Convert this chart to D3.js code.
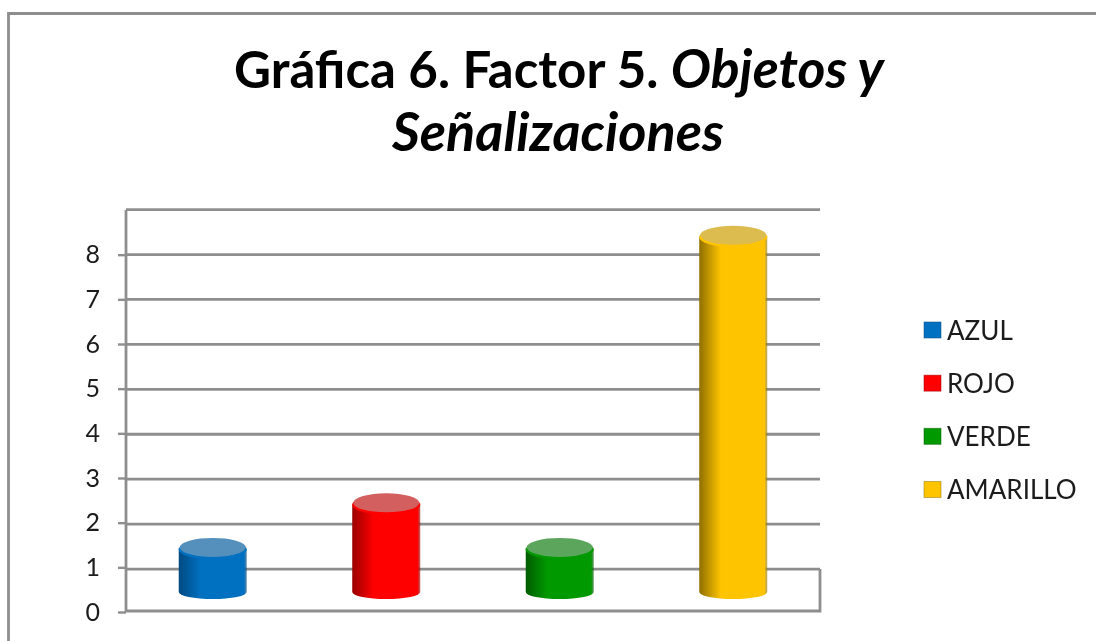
<!DOCTYPE html>
<html>
  <head>
    <meta charset="utf-8">
    <title>Gráfica 6</title>
    <script src="https://cdn.jsdelivr.net/npm/d3@7/dist/d3.min.js"></script>
    <style>
      html, body { margin: 0; padding: 0; background: #fff; overflow: hidden; }
      svg { display: block; }
    </style>
  </head>
  <body>
    <svg width="1096" height="641" id="mainsvg"></svg>
    <script>
        // data
        const categories = ['AZUL', 'ROJO', 'VERDE', 'AMARILLO'];
        const values = [1, 2, 1, 8];
        const yTicks = [0, 1, 2, 3, 4, 5, 6, 7, 8];
        const gridTicks = [1, 2, 3, 4, 5, 6, 7, 8, 9];
        const barColors = [
          {dark: '#034a80', mid: '#0070c0', top: '#5490bd'},
          {dark: '#9a0000', mid: '#ff0000', top: '#d45f5f'},
          {dark: '#005c00', mid: '#009900', top: '#5ba55b'},
          {dark: '#8f6f00', mid: '#ffc400', top: '#dcbb50'}
        ];

        const root = d3.select('#mainsvg');
        const font = 'Lato, "Open Sans", sans-serif';
        const axisColor = '#8e8e8e';

        const defs = root.append('defs');
        defs.append('filter').attr('id', 'soft')
          .attr('filterUnits', 'userSpaceOnUse')
          .attr('x', 0).attr('y', 0).attr('width', 1096).attr('height', 641)
          .append('feGaussianBlur').attr('stdDeviation', 0.5);

        // the reference is a slightly soft screenshot, so everything goes through a small blur
        const svg = root.append('g').attr('filter', 'url(#soft)');

        // outer frame of the chart
        svg.append('path')
          .attr('d', 'M8.5,641 V13.5 H1096')
          .attr('fill', 'none').attr('stroke', axisColor).attr('stroke-width', 2.8);

        // title
        const title = svg.append('text')
          .attr('x', 559).attr('y', 88)
          .attr('text-anchor', 'middle')
          .attr('font-family', font).attr('font-weight', 700)
          .attr('font-size', 51).attr('fill', '#000');
        title.append('tspan').text('Gráfica 6. Factor 5. ');
        title.append('tspan').attr('font-style', 'italic').attr('font-size', 53.5).text('Objetos y');
        svg.append('text')
          .attr('x', 558).attr('y', 151)
          .attr('text-anchor', 'middle')
          .attr('font-family', font).attr('font-weight', 700).attr('font-style', 'italic')
          .attr('font-size', 54).attr('fill', '#000')
          .text('Señalizaciones');

        // scales: tick labels, back wall and bar base sit at slightly different heights (3d chart)
        const plot = {left: 126, right: 820, top: 210, floor: 611};
        const x = d3.scaleBand().domain(categories)
          .range([plot.left, plot.right])
          .paddingInner(0.608).paddingOuter(0.304);
        const yLabel = d3.scaleLinear().domain([0, 9]).range([612, 210]);
        const yWall = d3.scaleLinear().domain([0, 9]).range([614, 209.6]);
        const yBar = d3.scaleLinear().domain([0, 9]).range([592, 190.6]);

        // gridlines on the back wall
        svg.append('g').selectAll('line').data(gridTicks).join('line')
          .attr('x1', plot.left).attr('x2', plot.right)
          .attr('y1', d => yWall(d)).attr('y2', d => yWall(d))
          .attr('stroke', axisColor).attr('stroke-width', 2.8);

        // walls and floor
        svg.append('path')
          .attr('d', `M${plot.left},${plot.top} V${plot.floor} H${plot.right} V${yWall(1)}`)
          .attr('fill', 'none').attr('stroke', axisColor).attr('stroke-width', 2.8);

        // y axis
        const yAxis = d3.axisLeft(yLabel).tickValues(yTicks).tickFormat(d3.format('d')).tickSize(8).tickPadding(18);
        const yAxisGroup = svg.append('g')
          .attr('transform', `translate(${plot.left}, 0)`)
          .call(yAxis);
        yAxisGroup.select('.domain').remove();
        yAxisGroup.selectAll('.tick line').attr('stroke', axisColor).attr('stroke-width', 2.4);
        yAxisGroup.selectAll('.tick text')
          .attr('font-family', font).attr('font-size', 25).attr('fill', '#1a1a1a');

        // gradients for the cylinder sides
        barColors.forEach((c, i) => {
          const grad = defs.append('linearGradient').attr('id', `side${i}`);
          grad.append('stop').attr('offset', '0%').attr('stop-color', c.dark);
          grad.append('stop').attr('offset', '32%').attr('stop-color', c.mid);
          grad.append('stop').attr('offset', '96%').attr('stop-color', c.mid);
          grad.append('stop').attr('offset', '100%').attr('stop-color', c.dark).attr('stop-opacity', 0.6);
        });

        // cylinders
        const ryTop = 10, ryBase = 7;
        const bars = svg.append('g').selectAll('g').data(categories).join('g');
        bars.each(function(d, i) {
          const g = d3.select(this);
          const x0 = x(d), w = x.bandwidth(), rx = w / 2;
          const base = yBar(0), top = yBar(values[i]);
          g.append('path')
            .attr('d', `M${x0},${top} V${base} A${rx},${ryBase} 0 0 0 ${x0 + w},${base} V${top} A${rx},${ryTop} 0 0 1 ${x0},${top} Z`)
            .attr('fill', `url(#side${i})`);
          // lit bevel under the lid
          g.append('ellipse')
            .attr('cx', x0 + rx).attr('cy', top + 2).attr('rx', rx).attr('ry', ryTop)
            .attr('fill', barColors[i].mid);
          g.append('ellipse')
            .attr('cx', x0 + rx).attr('cy', top).attr('rx', rx - 1).attr('ry', ryTop - 0.5)
            .attr('fill', barColors[i].top);
        });

        // legend
        const legendY = d3.scalePoint().domain(categories).range([330, 489.5]);
        const legend = svg.append('g').selectAll('g').data(categories).join('g')
          .attr('transform', d => `translate(924, ${legendY(d)})`);
        legend.append('rect')
          .attr('x', 0).attr('y', -8).attr('width', 17).attr('height', 16)
          .attr('fill', (d, i) => barColors[i].mid)
          .attr('stroke', (d, i) => barColors[i].dark).attr('stroke-opacity', 0.5);
        legend.append('text')
          .attr('x', 23).attr('y', 9.5)
          .attr('font-family', font).attr('font-size', 26).attr('fill', '#1a1a1a')
          .text(d => d);
    </script>
  </body>
</html>
